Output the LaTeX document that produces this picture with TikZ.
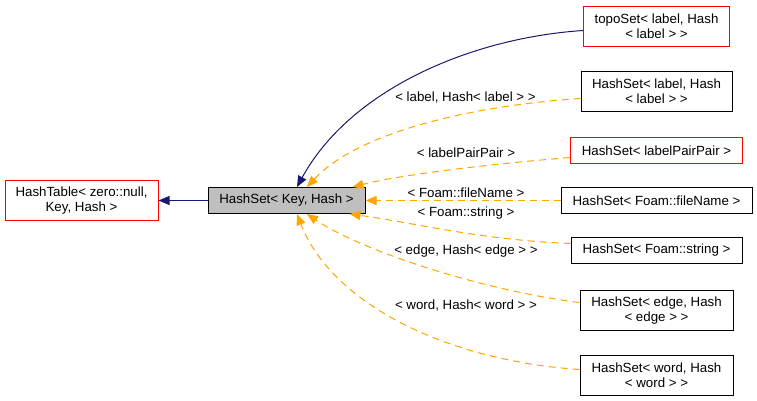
\documentclass[tikz,border=0pt]{standalone}
\usepackage{fontspec}
\setmainfont{Liberation Sans}
\usetikzlibrary{arrows.meta}
\definecolor{navy}{HTML}{191970}
\definecolor{dxorange}{HTML}{FFA500}
\definecolor{dxgray}{HTML}{BFBFBF}

\begin{document}
\begin{tikzpicture}[x=1pt,y=-1pt,
  font=\fontsize{13.3}{15}\selectfont,
  box/.style={draw=black,line width=1pt,inner sep=0pt,align=center,fill=white},
  redbox/.style={box,draw=red},
  basebox/.style={box,fill=dxgray},
  inherit/.style={navy,line width=1pt,-{Triangle[length=11pt,width=9pt]}},
  used/.style={dxorange,line width=1pt,dash pattern=on 7pt off 5pt,-{Triangle[length=11pt,width=9pt]}},
  lbl/.style={inner sep=0pt}]
  \useasboundingbox (0,0) rectangle (757,401);

  % classes
  \node[redbox,minimum width=153pt,minimum height=40pt] (table) at (81.5,200.5) {HashTable< zero::null,\\Key, Hash >};
  \node[basebox,minimum width=157pt,minimum height=26pt] (base) at (286.5,200.5) {HashSet< Key, Hash >};
  \node[redbox,minimum width=146pt,minimum height=40pt] (topo) at (656.5,26.5) {topoSet< label, Hash\\< label > >};
  \node[box,minimum width=151pt,minimum height=40pt] (hlabel) at (656.5,91.5) {HashSet< label, Hash\\< label > >};
  \node[redbox,minimum width=172pt,minimum height=26pt] (hpair) at (656.5,150.5) {HashSet< labelPairPair >};
  \node[box,minimum width=191pt,minimum height=26pt] (hfile) at (656.5,200.5) {HashSet< Foam::fileName >};
  \node[box,minimum width=171pt,minimum height=26pt] (hstring) at (656.5,250.5) {HashSet< Foam::string >};
  \node[box,minimum width=153pt,minimum height=40pt] (hedge) at (656.5,310.5) {HashSet< edge, Hash\\< edge > >};
  \node[box,minimum width=153pt,minimum height=40pt] (hword) at (656.5,375.5) {HashSet< word, Hash\\< word > >};

  % inheritance
  \draw[inherit] (base) -- (table);
  \draw[inherit] ([yshift=-4pt]topo.west) .. controls (470,38) and (350,90) .. ([xshift=10.5pt]base.north);
  \draw[used] ([yshift=-7pt]hlabel.west) .. controls (480,105) and (360,130) .. ([xshift=20.5pt]base.north);
  \draw[used] ([yshift=-7pt]hpair.west) .. controls (480,165) and (400,175) .. ([xshift=-13pt]base.north east);
  \draw[used] (hfile) -- (base);
  \draw[used] ([yshift=7pt]hstring.west) .. controls (480,240) and (410,222) .. ([xshift=-16pt]base.south east);
  \draw[used] ([yshift=8pt]hedge.west) .. controls (480,290) and (360,250) .. ([xshift=20.5pt]base.south);
  \draw[used] ([yshift=6pt]hword.west) .. controls (440,360) and (330,300) .. ([xshift=10.5pt]base.south);

  % template arguments
  \node[lbl] (l1) at (465.5,98) {< label, Hash< label > >};
  \node[lbl] (l2) at (466,153) {< labelPairPair >};
  \node[lbl] (l3) at (466,193) {< Foam::fileName >};
  \node[lbl] (l4) at (466,213) {< Foam::string >};
  \node[lbl] (l5) at (466,251) {< edge, Hash< edge > >};
  \node[lbl] (l6) at (466,306) {< word, Hash< word > >};
\end{tikzpicture}
\end{document}
